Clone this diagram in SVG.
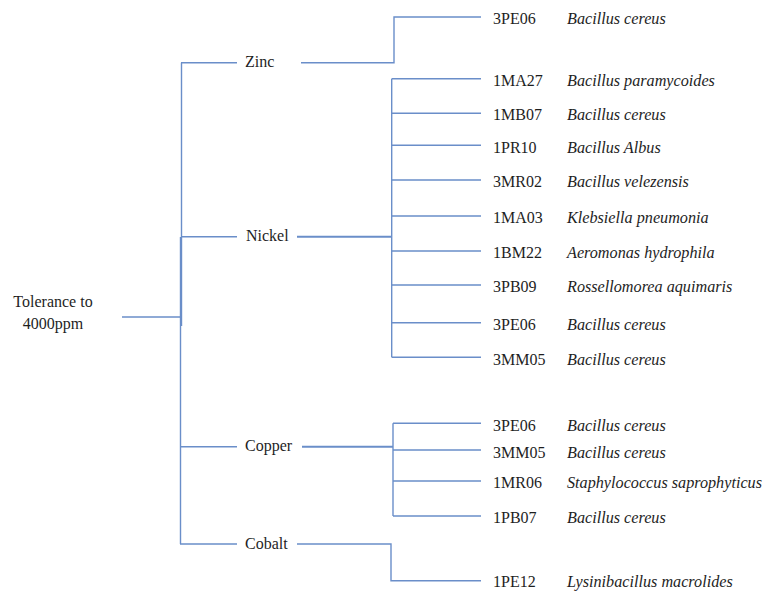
<svg xmlns="http://www.w3.org/2000/svg" width="766" height="592" viewBox="0 0 766 592">
<style>
text{font-family:"Liberation Serif","Times New Roman",serif;font-size:16px;fill:#1e1e1e}
.sp{font-style:italic;font-size:16.2px}
.c{fill:none;stroke:#6a8ec9;stroke-width:1.4}
.t{stroke-width:2}
</style>
<rect width="766" height="592" fill="#fff"/>
<g id="connectors" class="c">
<path d="M122 317H181"/>
<path d="M181.5 62.7V326"/>
<path d="M180.5 237V544"/>
<path d="M181 62.7H237M181 236.7H237M180 446.7H237M180 544H237"/>
<path d="M301 62.7H394V17H481"/>
<path class="t" d="M297 236.7H391.7"/>
<path d="M391.7 78.7V357.3"/>
<path d="M391.7 78.7H481M391.7 113.3H481M391.7 145.3H481M391.7 180H481M391.7 216H481M391.7 251H481M391.7 285H481M391.7 322.7H481M391.7 357.3H481"/>
<path class="t" d="M302 446.7H393"/>
<path d="M393 423.3V516"/>
<path d="M393 423.3H481M393 450H481M393 481H481M393 516H481"/>
<path d="M297 544H391V580.7H481"/>
</g>
<g id="root"><text x="53" y="307" text-anchor="middle">Tolerance to</text><text x="53" y="329" text-anchor="middle">4000ppm</text></g>
<g id="zinc"><text x="245" y="67">Zinc</text></g>
<g id="nickel"><text x="246" y="241">Nickel</text></g>
<g id="copper"><text x="245" y="451">Copper</text></g>
<g id="cobalt"><text x="245" y="549">Cobalt</text></g>
<g id="zn-3PE06"><text x="493" y="24">3PE06</text><text class="sp" x="567" y="24">Bacillus cereus</text></g>
<g id="ni-1MA27"><text x="493" y="86">1MA27</text><text class="sp" x="567" y="86">Bacillus paramycoides</text></g>
<g id="ni-1MB07"><text x="493" y="120">1MB07</text><text class="sp" x="567" y="120">Bacillus cereus</text></g>
<g id="ni-1PR10"><text x="493" y="153">1PR10</text><text class="sp" x="567" y="153">Bacillus Albus</text></g>
<g id="ni-3MR02"><text x="493" y="187">3MR02</text><text class="sp" x="567" y="187">Bacillus velezensis</text></g>
<g id="ni-1MA03"><text x="493" y="223">1MA03</text><text class="sp" x="567" y="223">Klebsiella pneumonia</text></g>
<g id="ni-1BM22"><text x="493" y="258">1BM22</text><text class="sp" x="567" y="258">Aeromonas hydrophila</text></g>
<g id="ni-3PB09"><text x="493" y="292">3PB09</text><text class="sp" x="567" y="292">Rossellomorea aquimaris</text></g>
<g id="ni-3PE06"><text x="493" y="330">3PE06</text><text class="sp" x="567" y="330">Bacillus cereus</text></g>
<g id="ni-3MM05"><text x="493" y="365">3MM05</text><text class="sp" x="567" y="365">Bacillus cereus</text></g>
<g id="cu-3PE06"><text x="493" y="431">3PE06</text><text class="sp" x="567" y="431">Bacillus cereus</text></g>
<g id="cu-3MM05"><text x="493" y="457.5">3MM05</text><text class="sp" x="567" y="457.5">Bacillus cereus</text></g>
<g id="cu-1MR06"><text x="493" y="488">1MR06</text><text class="sp" x="567" y="488">Staphylococcus saprophyticus</text></g>
<g id="cu-1PB07"><text x="493" y="523">1PB07</text><text class="sp" x="567" y="523">Bacillus cereus</text></g>
<g id="co-1PE12"><text x="493" y="587">1PE12</text><text class="sp" x="567" y="587">Lysinibacillus macrolides</text></g>
</svg>
